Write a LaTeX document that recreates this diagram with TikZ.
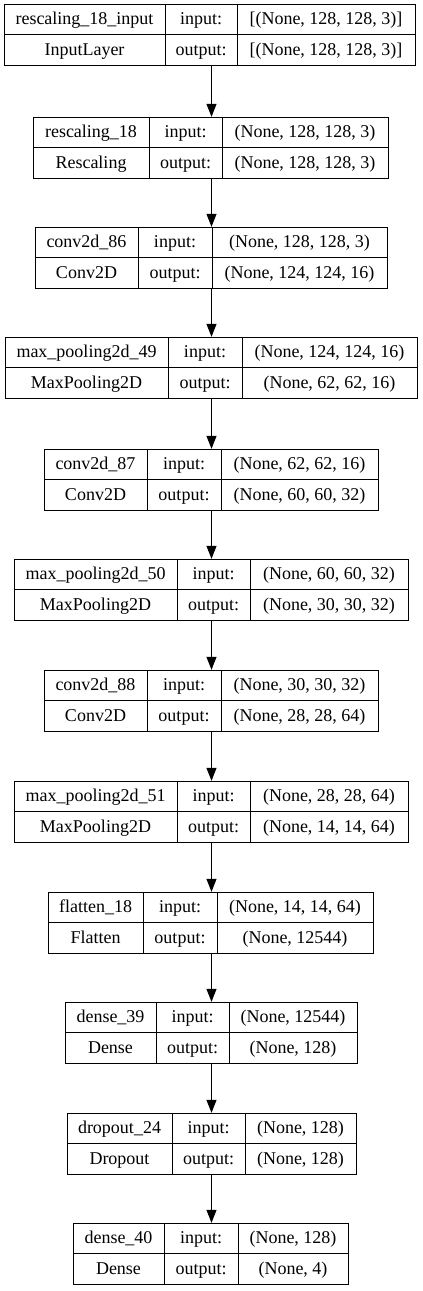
\documentclass[tikz,border=0pt]{standalone}
\usepackage{fontspec}
\setmainfont{Liberation Serif}
\usetikzlibrary{arrows.meta}
\tikzset{
  cell/.style = {draw, line width=1pt, minimum height=30.75pt, inner sep=0pt,
    text height=15pt, text depth=4pt, font=\fontsize{18}{20}\selectfont},
  boxframe/.style = {minimum height=61.5pt, inner sep=0pt},
  layerarrow/.style = {-{Triangle[length=13pt, width=10pt]}, line width=1pt}
}

% one layer box: id, top, left, col 1, col 2, right, name, type -- then {input}{output}
\newcommand{\kerasbox}[8]{%
  \def\kid{#1}\def\ktop{#2}\def\kcol{#5}\def\kright{#6}%
  \node[boxframe, minimum width={(#6-#3)*1pt}] (#1) at (211.5, {#2+30.75}) {};
  \node[cell, minimum width={(#4-#3)*1pt}] (#1-name) at ({(#3+#4)/2}, {#2+15.375}) {#7};
  \node[cell, minimum width={(#4-#3)*1pt}] (#1-type) at ({(#3+#4)/2}, {#2+46.125}) {#8};
  \node[cell, minimum width={(#5-#4)*1pt}] (#1-inlabel) at ({(#4+#5)/2}, {#2+15.375}) {input:};
  \node[cell, minimum width={(#5-#4)*1pt}] (#1-outlabel) at ({(#4+#5)/2}, {#2+46.125}) {output:};
  \kerasshapes}
\newcommand{\kerasshapes}[2]{%
  \node[cell, minimum width={(\kright-\kcol)*1pt}] (\kid-in) at ({(\kcol+\kright)/2}, {\ktop+15.375}) {#1};
  \node[cell, minimum width={(\kright-\kcol)*1pt}] (\kid-out) at ({(\kcol+\kright)/2}, {\ktop+46.125}) {#2};}

\begin{document}
\begin{tikzpicture}[x=1pt, y=-1pt]
  \useasboundingbox (0,0) rectangle (423,1291);

  % layers
  \kerasbox{inputlayer}{4}{4}{165}{237}{415}{rescaling\_18\_input}{InputLayer}{[(None, 128, 128, 3)]}{[(None, 128, 128, 3)]}
  \kerasbox{rescaling}{117}{33}{149}{222}{388}{rescaling\_18}{Rescaling}{(None, 128, 128, 3)}{(None, 128, 128, 3)}
  \kerasbox{conv86}{227}{35}{138}{212}{387}{conv2d\_86}{Conv2D}{(None, 128, 128, 3)}{(None, 124, 124, 16)}
  \kerasbox{pool49}{337}{5}{168}{242}{417}{max\_pooling2d\_49}{MaxPooling2D}{(None, 124, 124, 16)}{(None, 62, 62, 16)}
  \kerasbox{conv87}{449}{44}{147}{221}{378}{conv2d\_87}{Conv2D}{(None, 62, 62, 16)}{(None, 60, 60, 32)}
  \kerasbox{pool50}{559}{14}{177}{250}{408}{max\_pooling2d\_50}{MaxPooling2D}{(None, 60, 60, 32)}{(None, 30, 30, 32)}
  \kerasbox{conv88}{670}{44}{147}{221}{378}{conv2d\_88}{Conv2D}{(None, 30, 30, 32)}{(None, 28, 28, 64)}
  \kerasbox{pool51}{781}{14}{177}{250}{408}{max\_pooling2d\_51}{MaxPooling2D}{(None, 28, 28, 64)}{(None, 14, 14, 64)}
  \kerasbox{flatten}{892}{48}{143}{217}{373}{flatten\_18}{Flatten}{(None, 14, 14, 64)}{(None, 12544)}
  \kerasbox{dense39}{1002}{65}{156}{229}{357}{dense\_39}{Dense}{(None, 12544)}{(None, 128)}
  \kerasbox{dropout}{1113}{67}{172}{245}{356}{dropout\_24}{Dropout}{(None, 128)}{(None, 128)}
  \kerasbox{dense40}{1223}{73}{164}{238}{348}{dense\_40}{Dense}{(None, 128)}{(None, 4)}

  % arrows
  \draw[layerarrow] (inputlayer) -- (rescaling);
  \draw[layerarrow] (rescaling) -- (conv86);
  \draw[layerarrow] (conv86) -- (pool49);
  \draw[layerarrow] (pool49) -- (conv87);
  \draw[layerarrow] (conv87) -- (pool50);
  \draw[layerarrow] (pool50) -- (conv88);
  \draw[layerarrow] (conv88) -- (pool51);
  \draw[layerarrow] (pool51) -- (flatten);
  \draw[layerarrow] (flatten) -- (dense39);
  \draw[layerarrow] (dense39) -- (dropout);
  \draw[layerarrow] (dropout) -- (dense40);

\end{tikzpicture}
\end{document}
